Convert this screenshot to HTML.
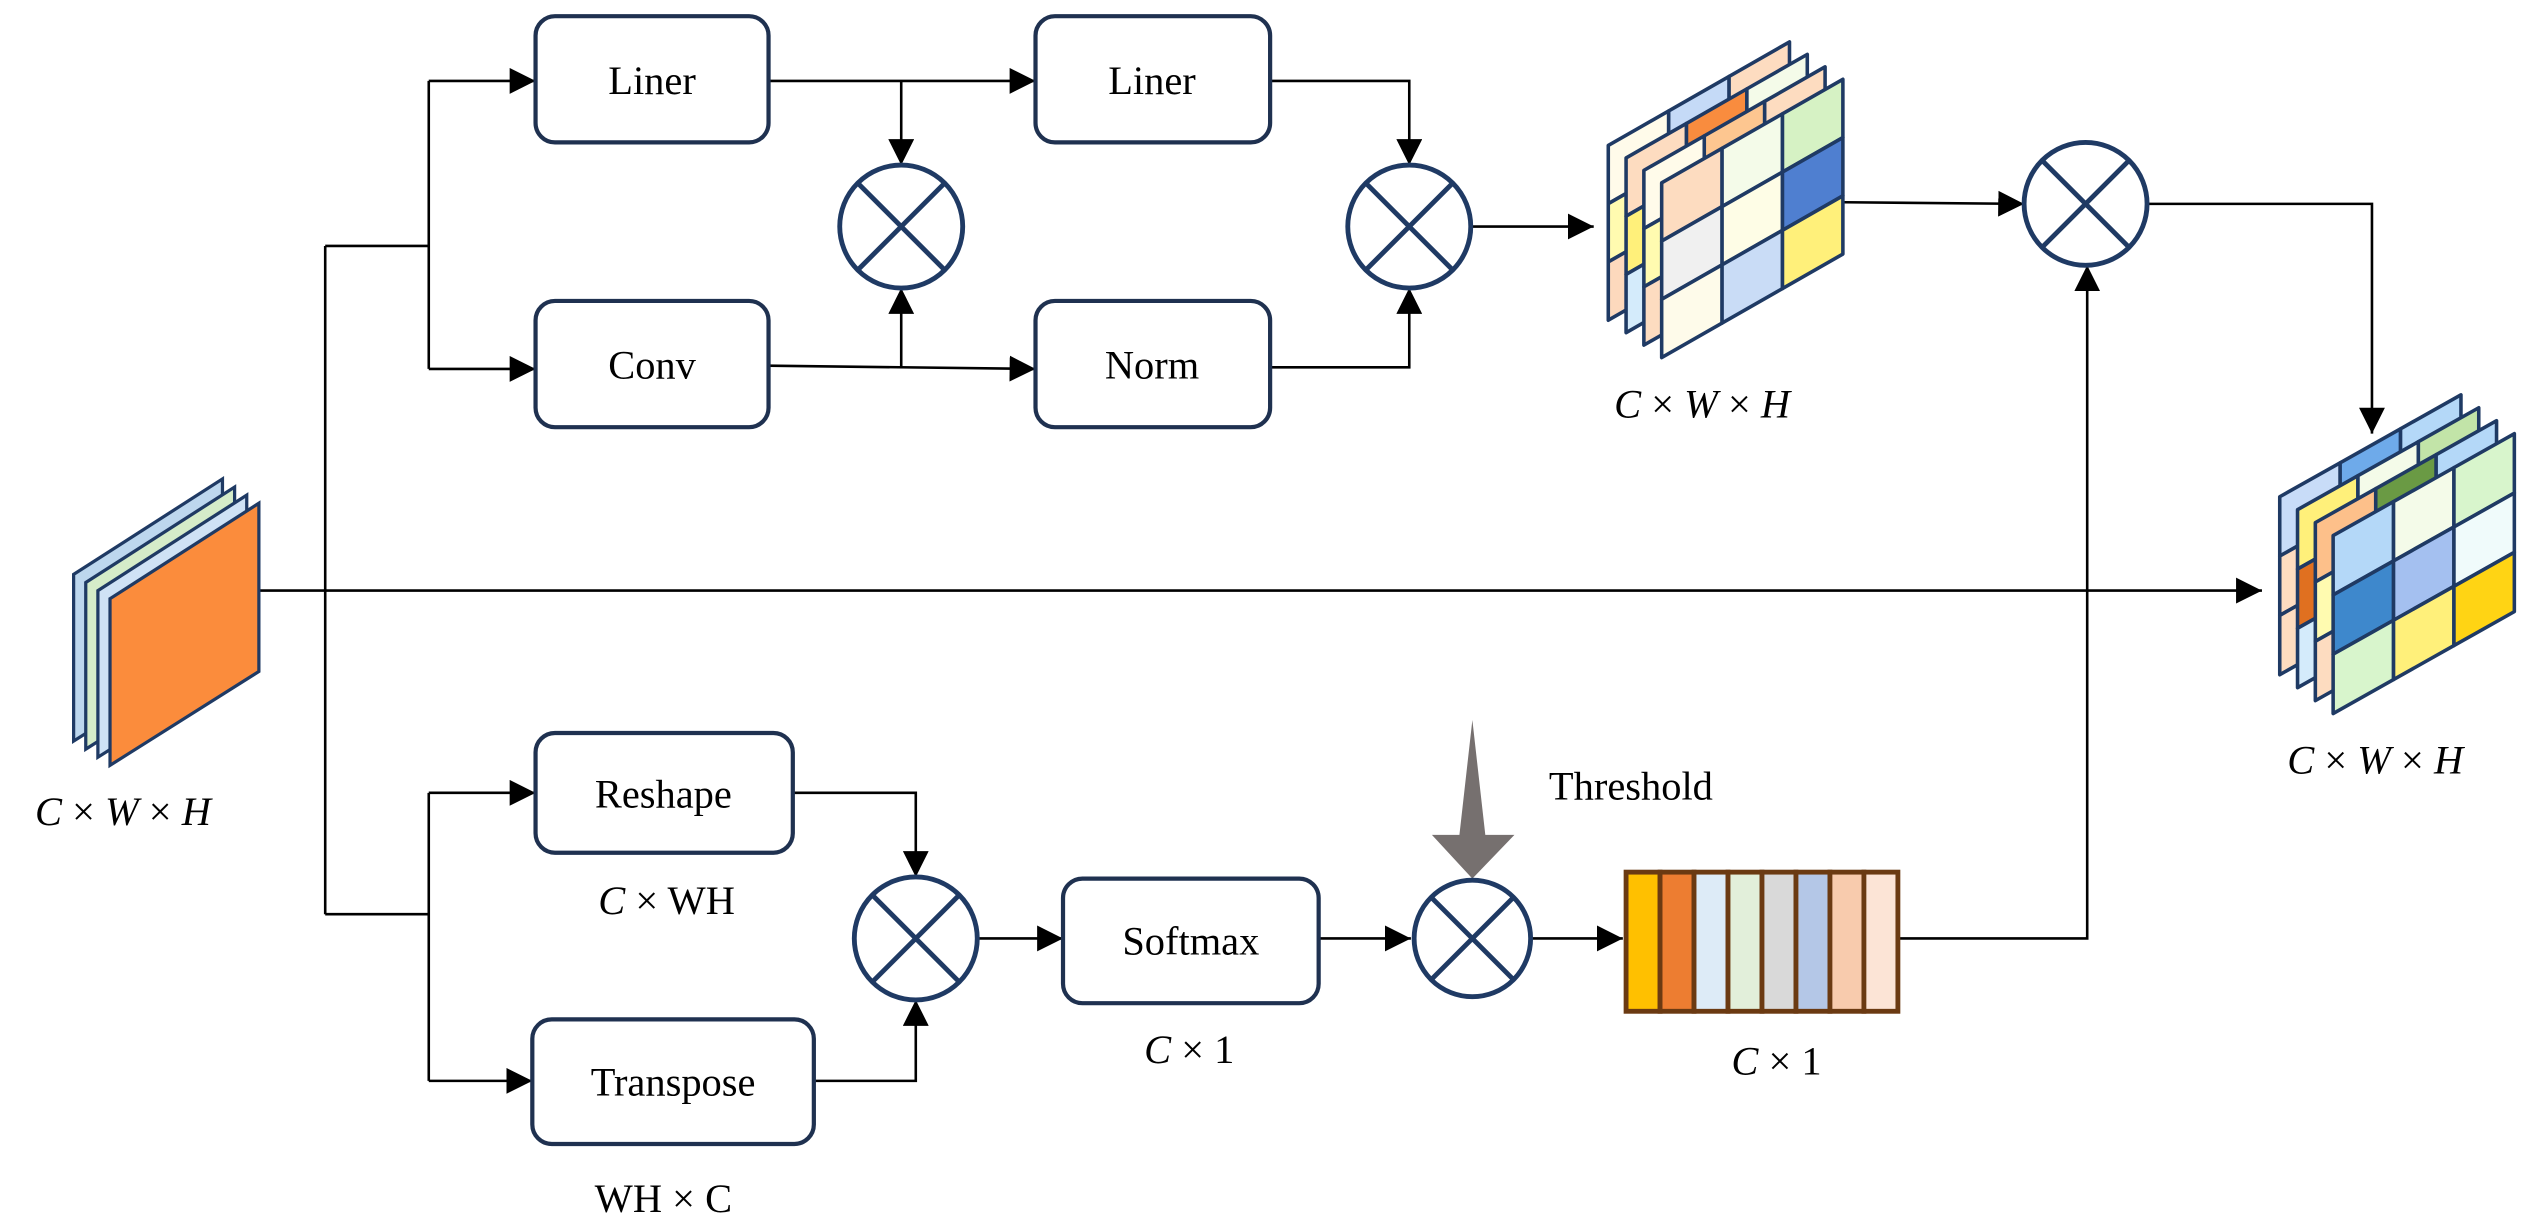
<!DOCTYPE html>
<html><head><meta charset="utf-8">
<style>html,body{margin:0;padding:0;background:#fff;}svg{display:block;}</style>
</head><body>
<svg id="s" xmlns="http://www.w3.org/2000/svg" width="2537" height="1226" viewBox="0 0 1568 757.7" preserveAspectRatio="none" font-family="'Liberation Serif', serif">
<defs>
<marker id="a" viewBox="0 0 10 10" refX="10" refY="5" markerWidth="16" markerHeight="16" markerUnits="userSpaceOnUse" orient="auto"><path d="M0,0 L10,5 L0,10 z" fill="#000"/></marker>
</defs>
<g fill="none" stroke="#000" stroke-width="1.6">
<path d="M160,365 L1398,365" marker-end="url(#a)"/>
<path d="M201,152 L201,565"/>
<path d="M201,152 L265,152"/>
<path d="M265,50 L265,228"/>
<path d="M265,50 L331,50" marker-end="url(#a)"/>
<path d="M265,228 L331,228" marker-end="url(#a)"/>
<path d="M475,50 L640,50" marker-end="url(#a)"/>
<path d="M557,50 L557,102" marker-end="url(#a)"/>
<path d="M475,226 L640,228" marker-end="url(#a)"/>
<path d="M557,227 L557,178" marker-end="url(#a)"/>
<path d="M785,50 L871,50 L871,102" marker-end="url(#a)"/>
<path d="M785,227 L871,227 L871,178" marker-end="url(#a)"/>
<path d="M909,140 L985,140" marker-end="url(#a)"/>
<path d="M1140,125 L1251,126" marker-end="url(#a)"/>
<path d="M1327,126 L1466,126 L1466,268" marker-end="url(#a)"/>
<path d="M201,565 L265,565"/>
<path d="M265,490 L265,668"/>
<path d="M265,490 L331,490" marker-end="url(#a)"/>
<path d="M265,668 L329,668" marker-end="url(#a)"/>
<path d="M490,490 L566,490 L566,542" marker-end="url(#a)"/>
<path d="M503,668 L566,668 L566,618" marker-end="url(#a)"/>
<path d="M604,580 L657,580" marker-end="url(#a)"/>
<path d="M815,580 L872,580" marker-end="url(#a)"/>
<path d="M947,580 L1003,580" marker-end="url(#a)"/>
<path d="M1173,580 L1290,580 L1290,164" marker-end="url(#a)"/>
</g>
<g fill="#fff" stroke="#1f3150" stroke-width="2.6">
<rect x="331" y="10" width="144" height="78" rx="12"/>
<rect x="331" y="186" width="144" height="78" rx="12"/>
<rect x="640" y="10" width="145" height="78" rx="12"/>
<rect x="640" y="186" width="145" height="78" rx="12"/>
<rect x="331" y="453" width="159" height="74" rx="12"/>
<rect x="329" y="630" width="174" height="77" rx="12"/>
<rect x="657" y="543" width="158" height="77" rx="12"/>
</g>
<g font-size="25" text-anchor="middle" fill="#000">
<text x="403" y="58">Liner</text>
<text x="403" y="234">Conv</text>
<text x="712" y="58">Liner</text>
<text x="712" y="234">Norm</text>
<text x="410" y="499">Reshape</text>
<text x="416" y="677">Transpose</text>
<text x="736" y="590">Softmax</text>
<text x="1008" y="494">Threshold</text>
</g>
<g font-size="25" text-anchor="middle" fill="#000">
<text x="76" y="510"><tspan font-style="italic">C</tspan> × <tspan font-style="italic">W</tspan> × <tspan font-style="italic">H</tspan></text>
<text x="1052" y="258"><tspan font-style="italic">C</tspan> × <tspan font-style="italic">W</tspan> × <tspan font-style="italic">H</tspan></text>
<text x="1468" y="478"><tspan font-style="italic">C</tspan> × <tspan font-style="italic">W</tspan> × <tspan font-style="italic">H</tspan></text>
<text x="412" y="565"><tspan font-style="italic">C</tspan> × WH</text>
<text x="410" y="749">WH × C</text>
<text x="735" y="657"><tspan font-style="italic">C</tspan> × 1</text>
<text x="1098" y="664"><tspan font-style="italic">C</tspan> × 1</text>
</g>
<polygon points="910,445 918,516 936,516 910,543 885,516 902,516" fill="#76706f"/>
<g stroke="#6b3a12" stroke-width="3">
<rect x="1005" y="539" width="21" height="86" fill="#ffc000"/>
<rect x="1026" y="539" width="21" height="86" fill="#ed7d31"/>
<rect x="1047" y="539" width="21" height="86" fill="#ddebf7"/>
<rect x="1068" y="539" width="21" height="86" fill="#e2efda"/>
<rect x="1089" y="539" width="21" height="86" fill="#d9d9d9"/>
<rect x="1110" y="539" width="21" height="86" fill="#b4c7e7"/>
<rect x="1131" y="539" width="21" height="86" fill="#f8cbad"/>
<rect x="1152" y="539" width="21" height="86" fill="#fce4d6"/>
</g>
<g id="cubes"></g>
<g id="circ"></g>
</svg>
<script>
(function(){
var NS="http://www.w3.org/2000/svg";
function el(p,t,a){var e=document.createElementNS(NS,t);for(var k in a)e.setAttribute(k,a[k]);p.appendChild(e);return e;}
var g=document.getElementById('cubes');
function plane(x,y,w,rise,h,cells){
  function P(u,v){return (x+u*w)+","+(y-u*rise+v*h);}
  for(var r=0;r<3;r++)for(var c=0;c<3;c++){
    var col=(cells[r]&&cells[r][c])||"#fffbea";
    el(g,'polygon',{points:[P(c/3,r/3),P((c+1)/3,r/3),P((c+1)/3,(r+1)/3),P(c/3,(r+1)/3)].join(' '),fill:col,stroke:'#1f3a64','stroke-width':2.2,'stroke-linejoin':'round'});
  }
}
var lc=["#bdd7ee","#d5ecc9","#cfe2f5","#fb8c3c"];
for(var i=0;i<4;i++){
  var dx=(3-i)*7.5, dy=(3-i)*5;
  var x=68-dx,y=370-dy;
  el(g,'polygon',{points:x+","+y+" "+(x+92)+","+(y-59)+" "+(x+92)+","+(y+45)+" "+x+","+(y+103),fill:lc[i],stroke:'#1f3a64','stroke-width':2});
}
var topc=[
 [["#fffbea","#c5daf7","#fddcc0"],["#fffbb0","#fffbb0","#fffbb0"],["#fdd9bd","#fdd9bd","#fdd9bd"]],
 [["#fddcc0","#f98c3e","#f4fbe9"],["#fff07a","#fff07a","#fff07a"],["#d4ebfb","#d4ebfb","#d4ebfb"]],
 [["#fffbea","#fdc690","#fddcc0"],["#fffbb0","#fffbb0","#fffbb0"],["#fddcc0","#fddcc0","#fddcc0"]],
 [["#fddcc0","#f4fbe9","#d6f2c4"],["#f0f0f0","#fefde6","#4f7fd0"],["#fefbea","#c9dcf6","#fff07a"]]
];
for(var i=0;i<4;i++){var k=3-i;plane(1027-11*k,113-7.7*k,112,64,108,topc[i]);}
var rt=[
 [["#c8dcf8","#6eaaea","#b4d8f8"],["#fddcc0","#fddcc0","#fddcc0"],["#fddcc0","#fddcc0","#fddcc0"]],
 [["#fff07a","#f4fbe9","#c2e4a8"],["#e07020","#e07020","#e07020"],["#d4ebfb","#d4ebfb","#d4ebfb"]],
 [["#fdc08a","#6a9a44","#b4d8f8"],["#fffbb0","#fffbb0","#fffbb0"],["#fddcc0","#fddcc0","#fddcc0"]],
 [["#b4d8f8","#f4fbe9","#d8f5cc"],["#3e88cc","#a4c0f0","#f0fbfb"],["#d8f5cc","#fff07a","#ffd414"]]
];
for(var i=0;i<4;i++){var k=3-i;plane(1442-11*k,331-8*k,112,63,110,rt[i]);}
var cg=document.getElementById('circ');
[[557,140,38],[871,140,38],[1289,126,38],[566,580,38],[910,580,36]].forEach(function(c){
  el(cg,'circle',{cx:c[0],cy:c[1],r:c[2],fill:'#fff',stroke:'#1f3a64','stroke-width':3});
  var d=c[2]*0.707;
  el(cg,'path',{d:"M"+(c[0]-d)+","+(c[1]-d)+"L"+(c[0]+d)+","+(c[1]+d)+"M"+(c[0]+d)+","+(c[1]-d)+"L"+(c[0]-d)+","+(c[1]+d),stroke:'#1f3a64','stroke-width':3});
});
})();
</script>
</body></html>
